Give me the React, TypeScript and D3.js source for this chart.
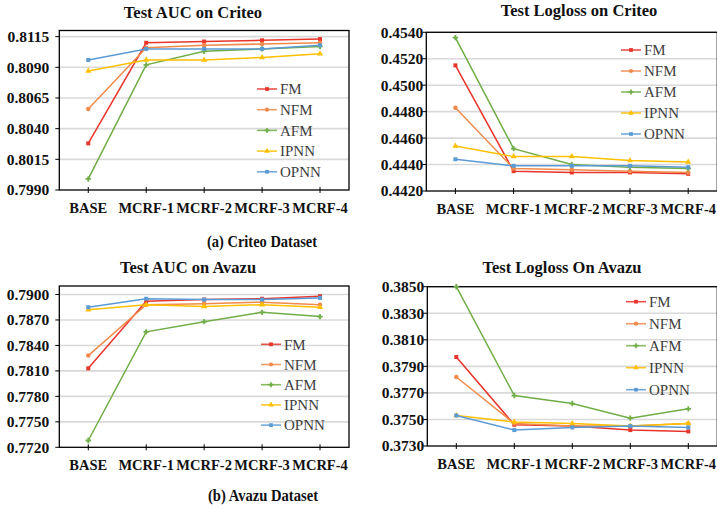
import React from 'react';
import * as d3 from 'd3';

// categories and series (rows follow `models`)
const categories = ['BASE', 'MCRF-1', 'MCRF-2', 'MCRF-3', 'MCRF-4'];
const models = ['FM', 'NFM', 'AFM', 'IPNN', 'OPNN'];
const colors = ['#e8352b', '#f08a4b', '#70ad47', '#ffc000', '#5b9bd5'];

const criteoAuc = [
  [0.8028, 0.8110, 0.8111, 0.8112, 0.8113],
  [0.8056, 0.8106, 0.8108, 0.8109, 0.8110],
  [0.7999, 0.8092, 0.8103, 0.8105, 0.8107],
  [0.8087, 0.8096, 0.8096, 0.8098, 0.8101],
  [0.8096, 0.8105, 0.8105, 0.8105, 0.8108],
];
const criteoLogloss = [
  [0.4515, 0.4435, 0.4434, 0.4434, 0.4433],
  [0.4483, 0.4437, 0.4436, 0.4435, 0.4434],
  [0.4536, 0.4452, 0.4440, 0.4438, 0.4437],
  [0.4454, 0.4446, 0.4446, 0.4443, 0.4442],
  [0.4444, 0.4439, 0.4439, 0.4439, 0.4438],
];
const avazuAuc = [
  [0.7813, 0.7892, 0.7894, 0.7895, 0.7898],
  [0.7828, 0.7888, 0.7889, 0.7891, 0.7888],
  [0.7728, 0.7856, 0.7868, 0.7879, 0.7874],
  [0.7882, 0.7888, 0.7886, 0.7888, 0.7885],
  [0.7885, 0.7895, 0.7894, 0.7894, 0.7896],
];
const avazuLogloss = [
  [0.3797, 0.3746, 0.3745, 0.3742, 0.3741],
  [0.3782, 0.3747, 0.3745, 0.3745, 0.3747],
  [0.3850, 0.3768, 0.3762, 0.3751, 0.3758],
  [0.3753, 0.3748, 0.3747, 0.3745, 0.3747],
  [0.3753, 0.3742, 0.3744, 0.3745, 0.3744],
];

const criteoAucTicks = [0.799, 0.8015, 0.804, 0.8065, 0.809, 0.8115];
const criteoLoglossTicks = [0.442, 0.444, 0.446, 0.448, 0.450, 0.452, 0.454];
const avazuAucTicks = [0.772, 0.775, 0.778, 0.781, 0.784, 0.787, 0.790];
const avazuLoglossTicks = [0.373, 0.375, 0.377, 0.379, 0.381, 0.383, 0.385];

const symbols = [d3.symbolSquare, d3.symbolCircle, d3.symbolCross, d3.symbolTriangle, d3.symbolSquare];
const serif = '"Liberation Serif", "Times New Roman", serif';

type PanelProps = {
  title: string;
  titleX: number;
  titleY: number;
  data: number[][];
  ticks: number[];
  domain: [number, number];
  left: number;
  right: number;
  top: number;
  bottom: number;
  labelGap: number;
  legendX: number;
  legendY: number;
  legendStep: number;
};

const Panel = (p: PanelProps) => {
  const x = d3.scaleBand().domain(categories).range([p.left, p.right]);
  const y = d3.scaleLinear().domain(p.domain).range([p.bottom, p.top]);
  const line = d3.line<number>()
    .x((_, i) => x(categories[i])! + x.bandwidth() / 2)
    .y((d) => y(d));
  const fmt = d3.format('.4f');
  return (
    <g>
      <text x={p.titleX} y={p.titleY} textAnchor="middle" fontFamily={serif}
        fontWeight="bold" fontSize={16.5} fill="#111">{p.title}</text>
      {p.ticks.map((t) => (
        <g key={t}>
          {t !== p.domain[0] && (
            <line x1={p.left} x2={p.right} y1={y(t)} y2={y(t)} stroke="#d9d9d9" strokeWidth={1.6} />
          )}
          <line x1={p.left - 4} x2={p.left} y1={y(t)} y2={y(t)} stroke="#000" />
          <text x={p.left - p.labelGap} y={y(t)} dy="0.35em" textAnchor="end" fontFamily={serif}
            fontWeight="bold" fontSize={15.5} fill="#111">{fmt(t)}</text>
        </g>
      ))}
      <rect x={p.left} y={p.top} width={p.right - p.left} height={p.bottom - p.top}
        fill="none" stroke="#000" strokeWidth={1.3} />
      {categories.map((c) => (
        <g key={c}>
          <line x1={x(c)! + x.bandwidth() / 2} x2={x(c)! + x.bandwidth() / 2}
            y1={p.bottom - 3} y2={p.bottom + 3} stroke="#000" />
          <text x={x(c)! + x.bandwidth() / 2} y={p.bottom + 23} textAnchor="middle" fontFamily={serif}
            fontWeight="bold" fontSize={14.5} fill="#111">{c}</text>
        </g>
      ))}
      {p.data.map((row, k) => (
        <g key={models[k]}>
          <path d={line(row)!} fill="none" stroke={colors[k]} strokeWidth={1.5} />
          {row.map((v, i) => (
            <path key={i} d={d3.symbol(symbols[k], 16)()!}
              transform={`translate(${x(categories[i])! + x.bandwidth() / 2},${y(v)})`} fill={colors[k]} />
          ))}
        </g>
      ))}
      {models.map((m, k) => {
        const ly = p.legendY + k * p.legendStep;
        return (
          <g key={m}>
            <line x1={p.legendX} x2={p.legendX + 20} y1={ly} y2={ly} stroke={colors[k]} strokeWidth={1.6} opacity={0.85} />
            <path d={d3.symbol(symbols[k], 14)()!} transform={`translate(${p.legendX + 10},${ly})`} fill={colors[k]} />
            <text x={p.legendX + 23} y={ly} dy="0.35em" fontFamily={serif} fontSize={15} fill="#404040">{m}</text>
          </g>
        );
      })}
    </g>
  );
};

export default function App() {
  return (
    <svg width={717} height={514} style={{ position: 'absolute', left: 0, top: 0, background: '#fff' }}>
      <Panel title="Test AUC on Criteo" titleX={193} titleY={17.5} data={criteoAuc} ticks={criteoAucTicks}
        domain={[0.799, 0.812]} left={59.3} right={349} top={30.5} bottom={190}
        labelGap={10} legendX={257} legendY={89} legendStep={20.7} />
      <Panel title="Test Logloss on Criteo" titleX={579} titleY={15.5} data={criteoLogloss} ticks={criteoLoglossTicks}
        domain={[0.442, 0.454]} left={426.3} right={717.3} top={32.3} bottom={191}
        labelGap={3} legendX={621} legendY={50} legendStep={21} />
      <Panel title="Test AUC on Avazu" titleX={188} titleY={272.7} data={avazuAuc} ticks={avazuAucTicks}
        domain={[0.772, 0.791]} left={59.3} right={349} top={286} bottom={447.3}
        labelGap={10} legendX={261} legendY={344.3} legendStep={20.2} />
      <Panel title="Test Logloss On Avazu" titleX={562} titleY={273} data={avazuLogloss} ticks={avazuLoglossTicks}
        domain={[0.373, 0.385]} left={427.3} right={717.3} top={286.7} bottom={446}
        labelGap={3} legendX={626} legendY={301.7} legendStep={22} />
      <text x={262} y={246.5} textAnchor="middle" fontFamily={serif} fontWeight="bold" fontSize={16.5}
        textLength={110} lengthAdjust="spacingAndGlyphs" fill="#111">(a)  Criteo Dataset</text>
      <text x={263} y={500.5} textAnchor="middle" fontFamily={serif} fontWeight="bold" fontSize={16.5}
        textLength={110} lengthAdjust="spacingAndGlyphs" fill="#111">(b)  Avazu Dataset</text>
    </svg>
  );
}
